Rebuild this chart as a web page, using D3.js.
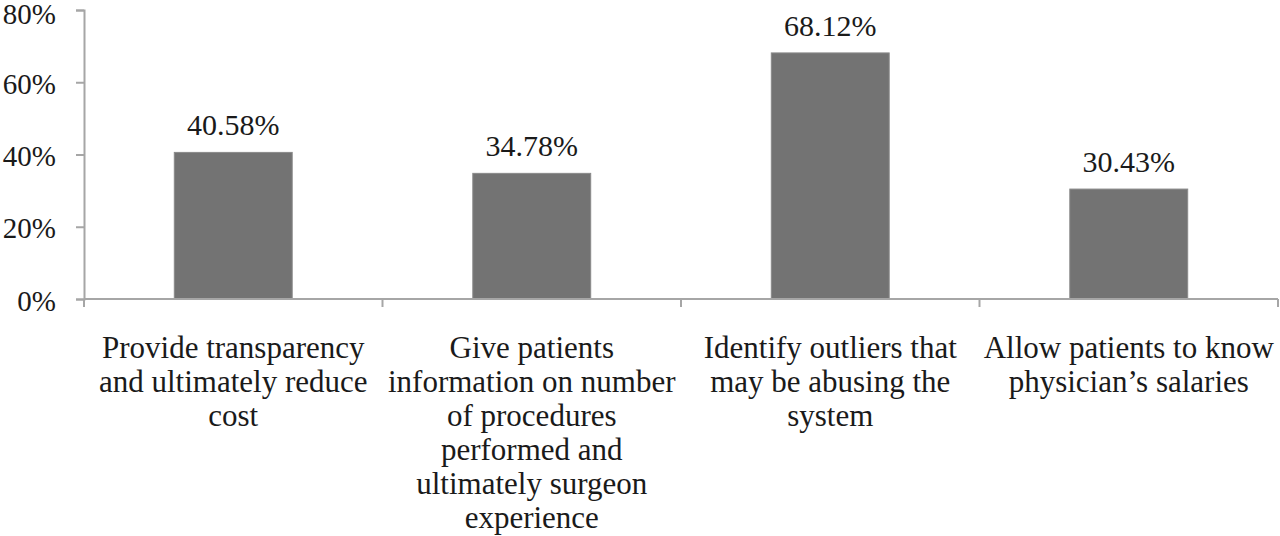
<!DOCTYPE html>
<html>
<head>
<meta charset="utf-8">
<script src="https://cdn.jsdelivr.net/npm/d3@7/dist/d3.min.js"></script>
<style>
  html, body { margin: 0; padding: 0; background: #fff; }
  svg { display: block; }
  text { font-family: "Liberation Serif", "Times New Roman", serif; fill: #1a1a1a; }
</style>
</head>
<body>
<svg id="chart" width="1280" height="536"></svg>
<script>
const categories = [
  "Provide transparency\nand ultimately reduce\ncost",
  "Give patients\ninformation on number\nof procedures\nperformed and\nultimately surgeon\nexperience",
  "Identify outliers that\nmay be abusing the\nsystem",
  "Allow patients to know\nphysician’s salaries"
];
const values = [40.58, 34.78, 68.12, 30.43];
const yTicks = [0, 20, 40, 60, 80];

const svg = d3.select("#chart");
const mLeft = 84, mRight = 1278, mTop = 10, mBottom = 299;

const x = d3.scaleBand().domain(d3.range(categories.length)).range([mLeft, mRight]).padding(0);
const y = d3.scaleLinear().domain([0, 80]).range([mBottom, mTop]);

const axisColor = "#a6a6a6";

// bars
const barW = x.bandwidth() * 0.395;
svg.selectAll("rect.bar").data(values).enter().append("rect")
  .attr("class", "bar")
  .attr("x", (d, i) => x(i) + x.bandwidth() / 2 - barW / 2)
  .attr("y", d => y(d))
  .attr("width", barW)
  .attr("height", d => y(0) - y(d))
  .attr("fill", "#737373")
  .attr("stroke", "#8a8a8a")
  .attr("stroke-width", 1);

// y axis
const yAxis = d3.axisLeft(y).tickValues(yTicks).tickFormat(d => d + "%").tickSize(8).tickPadding(20);
const gy = svg.append("g").attr("transform", `translate(${mLeft},0)`).call(yAxis);
gy.select(".domain").attr("stroke", axisColor).attr("stroke-width", 2);
gy.selectAll(".tick line").attr("stroke", axisColor).attr("stroke-width", 2);
gy.selectAll(".tick text").attr("font-size", 29).attr("font-family", "Liberation Serif").attr("fill", "#1a1a1a")
  .attr("dy", d => d === 80 ? "0.45em" : "0.38em");

// x axis baseline with category boundary ticks
const bounds = d3.range(categories.length + 1).map(i => i < categories.length ? x(i) : mRight);
svg.append("line").attr("x1", mLeft).attr("x2", mRight).attr("y1", y(0)).attr("y2", y(0))
  .attr("stroke", axisColor).attr("stroke-width", 2);
svg.selectAll("line.xt").data(bounds).enter().append("line")
  .attr("class", "xt")
  .attr("x1", d => d).attr("x2", d => d)
  .attr("y1", y(0)).attr("y2", y(0) + 8)
  .attr("stroke", axisColor).attr("stroke-width", 2);

// value labels
svg.selectAll("text.val").data(values).enter().append("text")
  .attr("class", "val")
  .attr("x", (d, i) => x(i) + x.bandwidth() / 2)
  .attr("y", d => y(d) - 17)
  .attr("text-anchor", "middle")
  .attr("font-size", 30)
  .text(d => d.toFixed(2) + "%");

// category labels
const lineH = 34;
categories.forEach((c, i) => {
  const cx = x(i) + x.bandwidth() / 2;
  const t = svg.append("text")
    .attr("x", cx)
    .attr("y", 358)
    .attr("text-anchor", "middle")
    .attr("font-size", 31);
  c.split("\n").forEach((ln, j) => {
    t.append("tspan").attr("x", cx).attr("y", 358 + j * lineH).text(ln);
  });
});
</script>
</body>
</html>
